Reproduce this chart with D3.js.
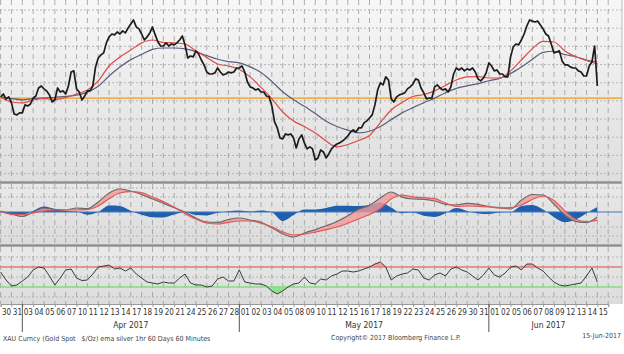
<!DOCTYPE html>
<html>
<head>
<meta charset="utf-8">
<script src="https://cdn.jsdelivr.net/npm/d3@7"></script>
<style>
  body { margin: 0; background: #fff; }
  svg { display: block; }
  text { font-family: "DejaVu Sans", sans-serif; font-stretch: condensed; }
</style>
</head>
<body>
<svg id="chart"></svg>
<script>
// trading days shown on the axis
var dayLabels = ["30","31","03","04","05","06","07","10","11","12","13","14","17","18","19","20","21","24","25","26","27","28",
  "01","02","03","04","05","08","09","10","11","12","15","16","17","18","19","22","23","24","25","26","29","30","31",
  "01","02","05","06","07","08","09","12","13","14","15"];
var monthNames = ["Apr 2017", "May 2017", "Jun 2017"];
var monthStart = [2, 22, 45];
var monthEnd = [22, 45, 56];

// XAU spot, 4 readings per trading day
var price = [
  1252.2,1253.8,1251.0,1252.2, 1248.9,1242.8,1242.3,1243.4, 1243.4,1247.8,1247.2,1248.3, 1251.6,1252.7,1257.1,1258.2,
  1256.6,1255.4,1253.3,1249.4, 1250.5,1257.1,1254.9,1255.5, 1253.8,1258.2,1265.9,1266.5, 1256.6,1254.9,1250.5,1252.7,
  1255.5,1255.5,1258.2,1268.7, 1273.6,1275.3,1276.4,1281.9, 1285.2,1286.8,1286.3,1287.9, 1286.8,1288.5,1287.4,1290.1,
  1292.3,1294.5,1290.7,1289.6, 1286.8,1283.5,1285.2,1287.4, 1290.7,1286.3,1282.4,1280.2, 1280.2,1281.9,1280.2,1281.3,
  1280.8,1281.9,1283.5,1285.7, 1280.8,1273.6,1274.7,1274.2, 1277.5,1275.8,1272.5,1269.8, 1265.9,1264.8,1264.8,1265.4,
  1268.1,1265.9,1264.3,1264.8, 1265.9,1265.4,1265.9,1268.1, 1268.1,1269.2,1265.9,1260.4, 1257.7,1257.1,1256.0,1256.6,
  1254.9,1254.9,1252.7,1252.2, 1247.2,1238.4,1235.1,1229.6, 1229.1,1231.8,1231.3,1231.8, 1229.6,1224.1,1229.1,1231.3,
  1226.9,1223.6,1224.7,1223.6, 1217.5,1218.6,1223.0,1221.9, 1218.6,1220.8,1223.6,1225.2, 1226.3,1226.9,1227.9,1229.1,
  1230.7,1232.9,1234.0,1232.9, 1235.1,1235.1,1237.9,1239.0, 1240.6,1242.3,1247.8,1256.0, 1259.9,1258.8,1263.2,1261.5,
  1251.1,1249.4,1252.2,1253.3, 1253.8,1254.4,1256.6,1257.7, 1259.3,1262.1,1261.5,1257.1, 1254.4,1251.1,1251.6,1251.6,
  1257.7,1258.8,1257.1,1256.0, 1256.6,1254.9,1257.7,1264.8, 1268.1,1267.0,1268.1,1266.5, 1267.6,1267.0,1268.1,1265.9,
  1262.1,1261.0,1262.6,1265.4, 1270.9,1269.2,1266.5,1267.0, 1264.8,1264.8,1263.2,1263.2, 1274.2,1279.7,1281.3,1280.8,
  1283.5,1286.8,1291.2,1294.5, 1293.9,1293.4,1293.9,1291.8, 1289.6,1286.8,1285.7,1281.3, 1276.4,1276.9,1277.5,1272.0,
  1269.8,1269.8,1268.7,1268.1, 1268.1,1266.5,1265.9,1263.7, 1263.7,1269.2,1271.4,1280.2, 1258.2
];
// moving averages, one reading per day
var emaFast = [1252.2,1249.4,1248.9,1250.5,1251.3,1250.8,1251.9,1253.8,1256.0,1261.0,1269.2,1274.2,1278.0,1281.9,
  1283.5,1282.1,1281.9,1281.3,1277.5,1273.9,1270.3,1269.2,1267.3,1263.2,1257.4,1251.3,1243.9,1239.0,1235.9,1232.4,
  1227.9,1224.7,1226.0,1228.2,1231.0,1238.1,1245.0,1249.1,1252.4,1253.5,1255.5,1258.5,1261.5,1263.2,1263.4,1262.6,
  1262.6,1266.5,1272.5,1278.6,1282.7,1282.4,1277.5,1274.4,1272.2,1270.3];
var emaSlow = [1252.2,1251.2,1250.6,1251.2,1251.7,1252.0,1252.5,1253.1,1254.8,1258.0,1263.7,1268.6,1272.7,1275.6,
  1278.3,1279.1,1279.1,1278.6,1277.1,1274.9,1272.9,1271.6,1270.9,1268.7,1265.6,1260.7,1255.0,1250.6,1247.0,1243.0,
  1238.8,1235.9,1233.9,1232.4,1233.3,1235.9,1239.7,1243.4,1246.3,1249.0,1251.5,1254.5,1256.9,1258.3,1259.5,1261.1,
  1262.4,1265.1,1268.7,1272.8,1276.7,1277.3,1275.5,1274.3,1272.5,1271.4];
var refLevel = 1251.5;

// MACD, signal and histogram, one reading per day
var macd = [0.17,-0.33,-0.75,0,0.67,0.43,0.33,0.67,0.55,1.67,3.17,3.83,3.5,2.9,2.17,1.45,0.73,0,-1,-1.67,-1.73,
  -1.25,-1,-1.33,-1.72,-2.62,-3.65,-4.17,-3.5,-2.93,-2.3,-1.58,-0.63,0.45,1.1,2.33,3.33,2.47,2.17,2.12,1.83,1.28,
  1.17,1.43,1.27,0.92,0.7,0.5,2,2.92,2.83,1.33,-0.5,-1.55,-1.75,-0.83];
var signal = [0.17,-0.4,-0.45,-0.17,0.17,0.33,0.33,0.33,0.4,1,2.22,3.17,3.38,3.23,2.5,1.73,0.77,-0.27,-1.17,-1.83,
  -2,-1.72,-1.5,-1.5,-1.87,-2.45,-3.32,-3.83,-3.7,-3.35,-2.93,-2.5,-1.87,-1.15,-0.42,0.58,2.18,2.8,2.53,2.4,2.22,
  1.5,0.92,1,0.95,0.85,0.7,0.73,1.17,2.08,2.67,1.92,0.22,-1.22,-1.62,-1.38];
var hist = [0,-0.38,-0.45,0.22,0.93,0.5,0.17,0.07,-0.45,0,1.08,1,0.2,-0.47,-0.87,-0.9,-0.42,0,-0.5,-0.57,-0.13,
  0.13,0.25,0.08,0.27,-0.05,-1.5,-0.5,0.42,0.42,0.67,1.03,1.05,1,1.15,1.6,0.75,-0.22,-0.1,-0.63,-0.83,-0.22,0.65,
  0.17,-0.23,-0.33,-0.1,-0.05,1,1.15,0.4,-0.88,-1.72,-1.27,-0.2,0.83];

// RSI, 2 readings per day
var rsi = [60,44,32,34,42,50,64,70,68,52,34,48,64,66,48,43,44,56,70,72,74,66,68,62,68,56,48,40,38,36,40,38,38,48,
  56,38,34,34,30,32,46,50,42,42,64,40,38,36,36,32,22,16,22,30,36,38,50,38,36,46,44,52,56,62,62,60,62,66,70,76,80,
  70,44,52,56,58,66,64,48,44,54,58,52,66,70,64,60,52,44,54,68,54,50,58,70,72,64,76,76,68,62,50,40,34,32,34,36,38,
  52,68,40];
var rsiHigh = 70, rsiLow = 30;

var W = 624, H = 354;
var svg = d3.select("#chart").attr("width", W).attr("height", H);
var right = 622;

var x = d3.scaleLinear().domain([0, 56]).range([0.6, 608.2]);
var yP = d3.scaleLinear().domain([1210, 1300]).range([173.6, 10]);
var yM = d3.scaleLinear().domain([-5, 5]).range([242, 182]);
var yR = d3.scaleLinear().domain([0, 100]).range([302, 252]);

var panels = [
  { top: 0, bottom: 181, c1: "#f7f7f7", c2: "#dedede" },
  { top: 184, bottom: 244, c1: "#e9e9e9", c2: "#dcdcdc" },
  { top: 247, bottom: 304, c1: "#e9e9e9", c2: "#dcdcdc" }
];

var defs = svg.append("defs");
panels.forEach(function(p, i) {
  var g = defs.append("linearGradient").attr("id", "bg" + i)
    .attr("x1", 0).attr("y1", 0).attr("x2", 0).attr("y2", 1);
  g.append("stop").attr("offset", "0%").attr("stop-color", p.c1);
  g.append("stop").attr("offset", "100%").attr("stop-color", p.c2);
  defs.append("clipPath").attr("id", "clip" + i)
    .append("rect").attr("x", 0).attr("y", p.top).attr("width", right).attr("height", p.bottom - p.top);
});

svg.append("rect").attr("width", W).attr("height", H).attr("fill", "#fff");

panels.forEach(function(p, i) {
  svg.append("rect").attr("x", 0).attr("y", p.top).attr("width", right).attr("height", p.bottom - p.top)
    .attr("fill", "url(#bg" + i + ")");
  svg.append("g").selectAll("line").data(d3.range(57)).enter().append("line")
    .attr("x1", function(d) { return x(d); }).attr("x2", function(d) { return x(d); })
    .attr("y1", p.top).attr("y2", p.bottom)
    .attr("stroke", "#9a9a9a").attr("stroke-width", 0.8).attr("stroke-dasharray", "5,4");
});

function hGrid(vals, scale) {
  svg.append("g").selectAll("line").data(vals).enter().append("line")
    .attr("x1", 0).attr("x2", right)
    .attr("y1", function(d) { return scale(d); }).attr("y2", function(d) { return scale(d); })
    .attr("stroke", "#a9a9a9").attr("stroke-width", 0.8).attr("stroke-dasharray", "2,2");
}
hGrid(d3.range(1210, 1301, 10), yP);
hGrid([-4, -2.5, 2.5, 4], yM);
hGrid([90, 50, 10], yR);

// separators between panels
[182.5, 245.5].forEach(function(y) {
  svg.append("line").attr("x1", 0).attr("x2", right).attr("y1", y).attr("y2", y)
    .attr("stroke", "#8c8c8c").attr("stroke-width", 2.5);
});
svg.append("line").attr("x1", right).attr("x2", right).attr("y1", 0).attr("y2", 304)
  .attr("stroke", "#bbb").attr("stroke-width", 1);

// ---- price panel
var gP = svg.append("g").attr("clip-path", "url(#clip0)");
gP.append("line").attr("x1", 0).attr("x2", right)
  .attr("y1", yP(refLevel)).attr("y2", yP(refLevel))
  .attr("stroke", "#f0b050").attr("stroke-width", 1.6);

var dayLine = function(scale) {
  return d3.line().x(function(d, i) { return x(i); }).y(function(d) { return scale(d); }).curve(d3.curveMonotoneX);
};
gP.append("path").datum(emaSlow).attr("d", dayLine(yP))
  .attr("fill", "none").attr("stroke", "#56607a").attr("stroke-width", 1.2);
gP.append("path").datum(emaFast).attr("d", dayLine(yP))
  .attr("fill", "none").attr("stroke", "#dd4a4a").attr("stroke-width", 1.2);
gP.append("path").datum(price)
  .attr("d", d3.line().x(function(d, i) { return x(i / 4); }).y(function(d) { return yP(d); }))
  .attr("fill", "none").attr("stroke", "#1c1c1c").attr("stroke-width", 1.7).attr("stroke-linejoin", "round");

// ---- MACD panel
var gM = svg.append("g").attr("clip-path", "url(#clip1)");
gM.append("path").datum(hist)
  .attr("d", d3.area().x(function(d, i) { return x(i); }).y0(yM(0)).y1(function(d) { return yM(d); }).curve(d3.curveMonotoneX))
  .attr("fill", "#1f5fae");
gM.append("line").attr("x1", 0).attr("x2", right).attr("y1", yM(0)).attr("y2", yM(0))
  .attr("stroke", "#3f78c4").attr("stroke-width", 1.2);
var ms = macd.map(function(m, i) { return { m: m, s: signal[i] }; });
gM.append("path").datum(ms)
  .attr("d", d3.area().x(function(d, i) { return x(i); })
    .y0(function(d) { return yM(d.s); }).y1(function(d) { return yM(d.m); }).curve(d3.curveMonotoneX))
  .attr("fill", "#f39a9a").attr("fill-opacity", 0.8);
gM.append("path").datum(macd).attr("d", dayLine(yM))
  .attr("fill", "none").attr("stroke", "#6a6a6a").attr("stroke-width", 1.2);
gM.append("path").datum(signal).attr("d", dayLine(yM))
  .attr("fill", "none").attr("stroke", "#e05858").attr("stroke-width", 1.2);

// ---- RSI panel
var gR = svg.append("g").attr("clip-path", "url(#clip2)");
var rx = function(d, i) { return x(i / 2); };
gR.append("path").datum(rsi)
  .attr("d", d3.area().x(rx).y0(yR(rsiLow)).y1(function(d) { return yR(Math.min(d, rsiLow)); }))
  .attr("fill", "#8fe08f");
gR.append("path").datum(rsi)
  .attr("d", d3.area().x(rx).y0(yR(rsiHigh)).y1(function(d) { return yR(Math.max(d, rsiHigh)); }))
  .attr("fill", "#f2a0a0");
gR.append("line").attr("x1", 0).attr("x2", right).attr("y1", yR(rsiHigh)).attr("y2", yR(rsiHigh))
  .attr("stroke", "#e37b7b").attr("stroke-width", 1.6);
gR.append("line").attr("x1", 0).attr("x2", right).attr("y1", yR(rsiLow)).attr("y2", yR(rsiLow))
  .attr("stroke", "#7fe07f").attr("stroke-width", 1.6);
gR.append("path").datum(rsi)
  .attr("d", d3.line().x(rx).y(function(d) { return yR(d); }))
  .attr("fill", "none").attr("stroke", "#3a3a3a").attr("stroke-width", 1);

// ---- time axis
var ruler = svg.append("g").attr("transform", "translate(0,304)")
  .call(d3.axisBottom(x).tickValues(d3.range(57)).tickSize(3).tickFormat(""));
ruler.select(".domain").attr("stroke", "#999");
ruler.selectAll(".tick line").attr("stroke", "#999");

var ax = svg.append("g").attr("transform", "translate(0,306)")
  .call(d3.axisBottom(x).tickValues(d3.range(56).map(function(i) { return i + 0.5; }))
    .tickFormat(function(d) { return dayLabels[Math.floor(d)]; }).tickSize(0).tickPadding(3));
ax.select(".domain").remove();
ax.selectAll("text").attr("font-size", "8px").attr("fill", "#333")
  .style("font-family", "'DejaVu Sans',sans-serif").style("font-stretch", "condensed");

svg.append("g").selectAll("line").data(monthStart).enter().append("line")
  .attr("x1", function(d) { return x(d); }).attr("x2", function(d) { return x(d); })
  .attr("y1", 304).attr("y2", 332).attr("stroke", "#555").attr("stroke-width", 1);
svg.append("g").selectAll("text").data(monthNames).enter().append("text")
  .attr("x", function(d, i) { return x((monthStart[i] + monthEnd[i]) / 2); })
  .attr("y", 328).attr("text-anchor", "middle").attr("font-size", "8.5px").attr("fill", "#333")
  .text(function(d) { return d; });

// ---- footer
svg.append("text").attr("x", 3).attr("y", 341).attr("font-size", "7px").attr("fill", "#444")
  .attr("xml:space", "preserve").style("white-space", "pre")
  .text("XAU Curncy (Gold Spot   $/Oz) ema silver 1hr 60 Days 60 Minutes");
svg.append("text").attr("x", 331).attr("y", 340).attr("font-size", "7px").attr("fill", "#444")
  .text("Copyright\u00a9 2017 Bloomberg Finance L.P.");
svg.append("text").attr("x", 621).attr("y", 338).attr("text-anchor", "end").attr("font-size", "7px").attr("fill", "#444")
  .text("15-Jun-2017");
</script>
</body>
</html>
